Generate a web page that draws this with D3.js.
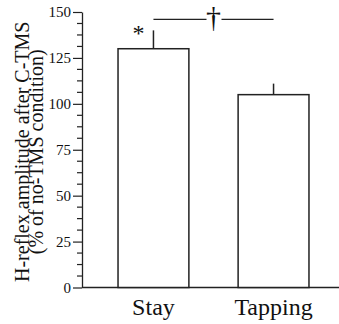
<!DOCTYPE html>
<html>
<head>
<meta charset="utf-8">
<script src="https://cdn.jsdelivr.net/npm/d3@7"></script>
<style>
  html, body { margin: 0; padding: 0; background: #fff; }
  svg text { font-family: 'Liberation Serif', 'Times New Roman', serif; fill: #111; }
</style>
</head>
<body>
<svg id="chart"></svg>
<script>
const categories = ['Stay', 'Tapping']
const means = [130, 105]
const errors = [10, 6]
const yTicks = [0, 25, 50, 75, 100, 125, 150]
const minorTicks = d3.range(0, 150, 6.25).filter((d) => d % 25 !== 0)
const bracketLevel = 146

const width = 339
const height = 324
const margin = { top: 12, right: 0, bottom: 36.5, left: 82 }
const ink = '#222'
const serif = "'Liberation Serif', 'Times New Roman', serif"

const svg = d3.select('#chart').attr('width', width).attr('height', height)

const y = d3.scaleLinear().domain([0, 150]).range([height - margin.bottom, margin.top])
const x = d3.scaleBand().domain(categories).range([margin.left, 345]).paddingInner(0.41).paddingOuter(0.3)

// y axis, major + minor ticks
const yAxis = svg.append('g').attr('transform', `translate(${margin.left},0)`)
yAxis.call(d3.axisLeft(y).tickValues(yTicks).tickSize(9).tickPadding(2).tickSizeOuter(0))
yAxis.attr('font-family', serif).attr('font-size', 15)
yAxis.select('.domain').attr('stroke', ink).attr('stroke-width', 1.3)
yAxis.selectAll('.tick line').attr('stroke', ink).attr('stroke-width', 1.2)
yAxis
  .selectAll('.minor')
  .data(minorTicks)
  .join('line')
  .attr('class', 'minor')
  .attr('x1', -5)
  .attr('x2', 0)
  .attr('y1', (d) => y(d))
  .attr('y2', (d) => y(d))
  .attr('stroke', ink)
  .attr('stroke-width', 1.2)

// baseline
svg
  .append('line')
  .attr('x1', margin.left)
  .attr('x2', width)
  .attr('y1', y(0))
  .attr('y2', y(0))
  .attr('stroke', ink)
  .attr('stroke-width', 1.5)

// bars
svg
  .append('g')
  .selectAll('rect')
  .data(categories)
  .join('rect')
  .attr('x', (d) => x(d))
  .attr('y', (d, i) => y(means[i]))
  .attr('width', x.bandwidth())
  .attr('height', (d, i) => y(0) - y(means[i]))
  .attr('fill', '#fff')
  .attr('stroke', ink)
  .attr('stroke-width', 1.5)

// error bars (upper only)
const cx = (d) => x(d) + x.bandwidth() / 2
svg
  .append('g')
  .selectAll('line')
  .data(categories)
  .join('line')
  .attr('x1', cx)
  .attr('x2', cx)
  .attr('y1', (d, i) => y(means[i]))
  .attr('y2', (d, i) => y(means[i] + errors[i]))
  .attr('stroke', ink)
  .attr('stroke-width', 1.5)

// category labels
svg
  .append('g')
  .selectAll('text')
  .data(categories)
  .join('text')
  .attr('x', cx)
  .attr('y', y(0) + 27)
  .attr('text-anchor', 'middle')
  .attr('font-size', 24)
  .text((d) => d)

// significance marks
svg
  .append('text')
  .attr('x', cx('Stay') - 15)
  .attr('y', y(means[0] + errors[0]) + 10.5)
  .attr('text-anchor', 'middle')
  .attr('font-size', 24)
  .text('*')

const mid = (cx('Stay') + cx('Tapping')) / 2
const by = y(bracketLevel)
svg
  .append('g')
  .selectAll('line')
  .data([
    [cx('Stay'), mid - 7],
    [mid + 8, cx('Tapping')]
  ])
  .join('line')
  .attr('x1', (d) => d[0])
  .attr('x2', (d) => d[1])
  .attr('y1', by)
  .attr('y2', by)
  .attr('stroke', ink)
  .attr('stroke-width', 1.3)
svg
  .append('text')
  .attr('x', mid)
  .attr('y', by + 8)
  .attr('text-anchor', 'middle')
  .attr('font-size', 30)
  .text('\u2020')

// y label
const yl = svg.append('text').attr('transform', `translate(0,${(y(0) + y(150)) / 2 + 2}) rotate(-90)`).attr('text-anchor', 'middle').attr('font-size', 20)
yl.append('tspan').attr('x', 0).attr('y', 28.5).text('H-reflex amplitude after C-TMS')
yl.append('tspan').attr('x', 0).attr('y', 43).text('(% of no-TMS condition)')
</script>
</body>
</html>
